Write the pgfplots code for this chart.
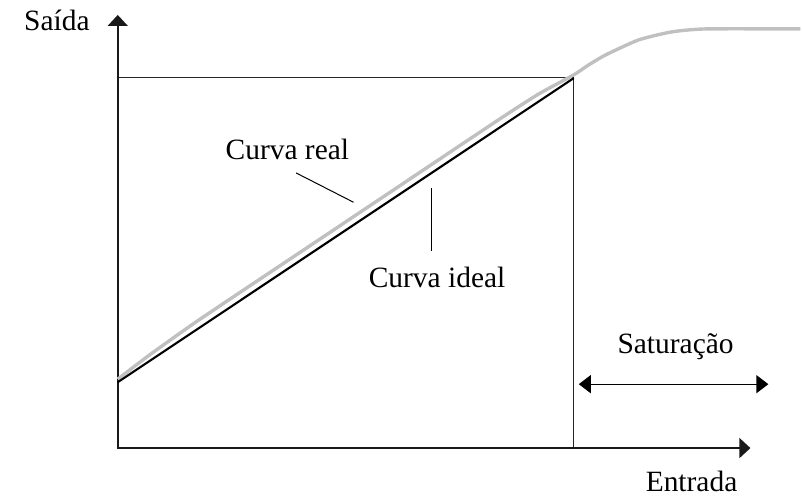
\documentclass[border=0pt]{standalone}
\usepackage{pgfplots}
\pgfplotsset{compat=1.18}
\usepackage{fontspec}
\setmainfont{Liberation Serif}
\usetikzlibrary{arrows.meta}
\definecolor{realgray}{RGB}{192,192,192}
\tikzset{lbl/.style={font=\fontsize{29.5}{33}\selectfont, text=black, inner sep=0pt}}
\begin{document}
\begin{tikzpicture}
\begin{axis}[
  scale only axis, width=802pt, height=497pt,
  xmin=0, xmax=802, ymin=0, ymax=497,
  hide axis, clip=false,
]
\path (axis cs:0,0) rectangle (axis cs:802,497);
% frame
\addplot[black!85, line width=1pt] coordinates {(118,419) (574.5,419) (574.5,48)};
% axes
\addplot[black!90, line width=1.6pt, -{Triangle[width=20pt,length=11pt]}] coordinates {(118,47.3) (118,482)};
\addplot[black!90, line width=1.6pt, -{Triangle[width=20pt,length=11pt]}] coordinates {(117.2,48) (752,48)};
% real curve
\addplot[realgray, line width=3.4pt, smooth, tension=0.35] coordinates {
(118,117) (150,141.4) (200,176.8) (300,243.6) (400,310.4) (500,377.2) (540,402.9) (575,422) (590,432) (607,442) (640,457) (673,465) (707,468) (802,468)};
% ideal curve
\addplot[black, line width=2.1pt] coordinates {(118,114) (575,418.7)};
% saturation arrow
\addplot[black, line width=1.3pt, {Triangle[width=18pt,length=12pt]}-{Triangle[width=18pt,length=12pt]}] coordinates {(580,112) (770,112)};
% leaders
\addplot[black, line width=1pt] coordinates {(296.7,323.7) (354.3,294.3)};
\addplot[black, line width=1pt] coordinates {(432.7,308.7) (432.7,245.3)};
\node[lbl] at (axis cs:57,477) {Saída};
\node[lbl] at (axis cs:693,15) {Entrada};
\node[lbl] at (axis cs:288,347) {Curva real};
\node[lbl] at (axis cs:438,219) {Curva ideal};
\node[lbl] at (axis cs:677,150) {Saturação};
\end{axis}
\end{tikzpicture}
\end{document}
